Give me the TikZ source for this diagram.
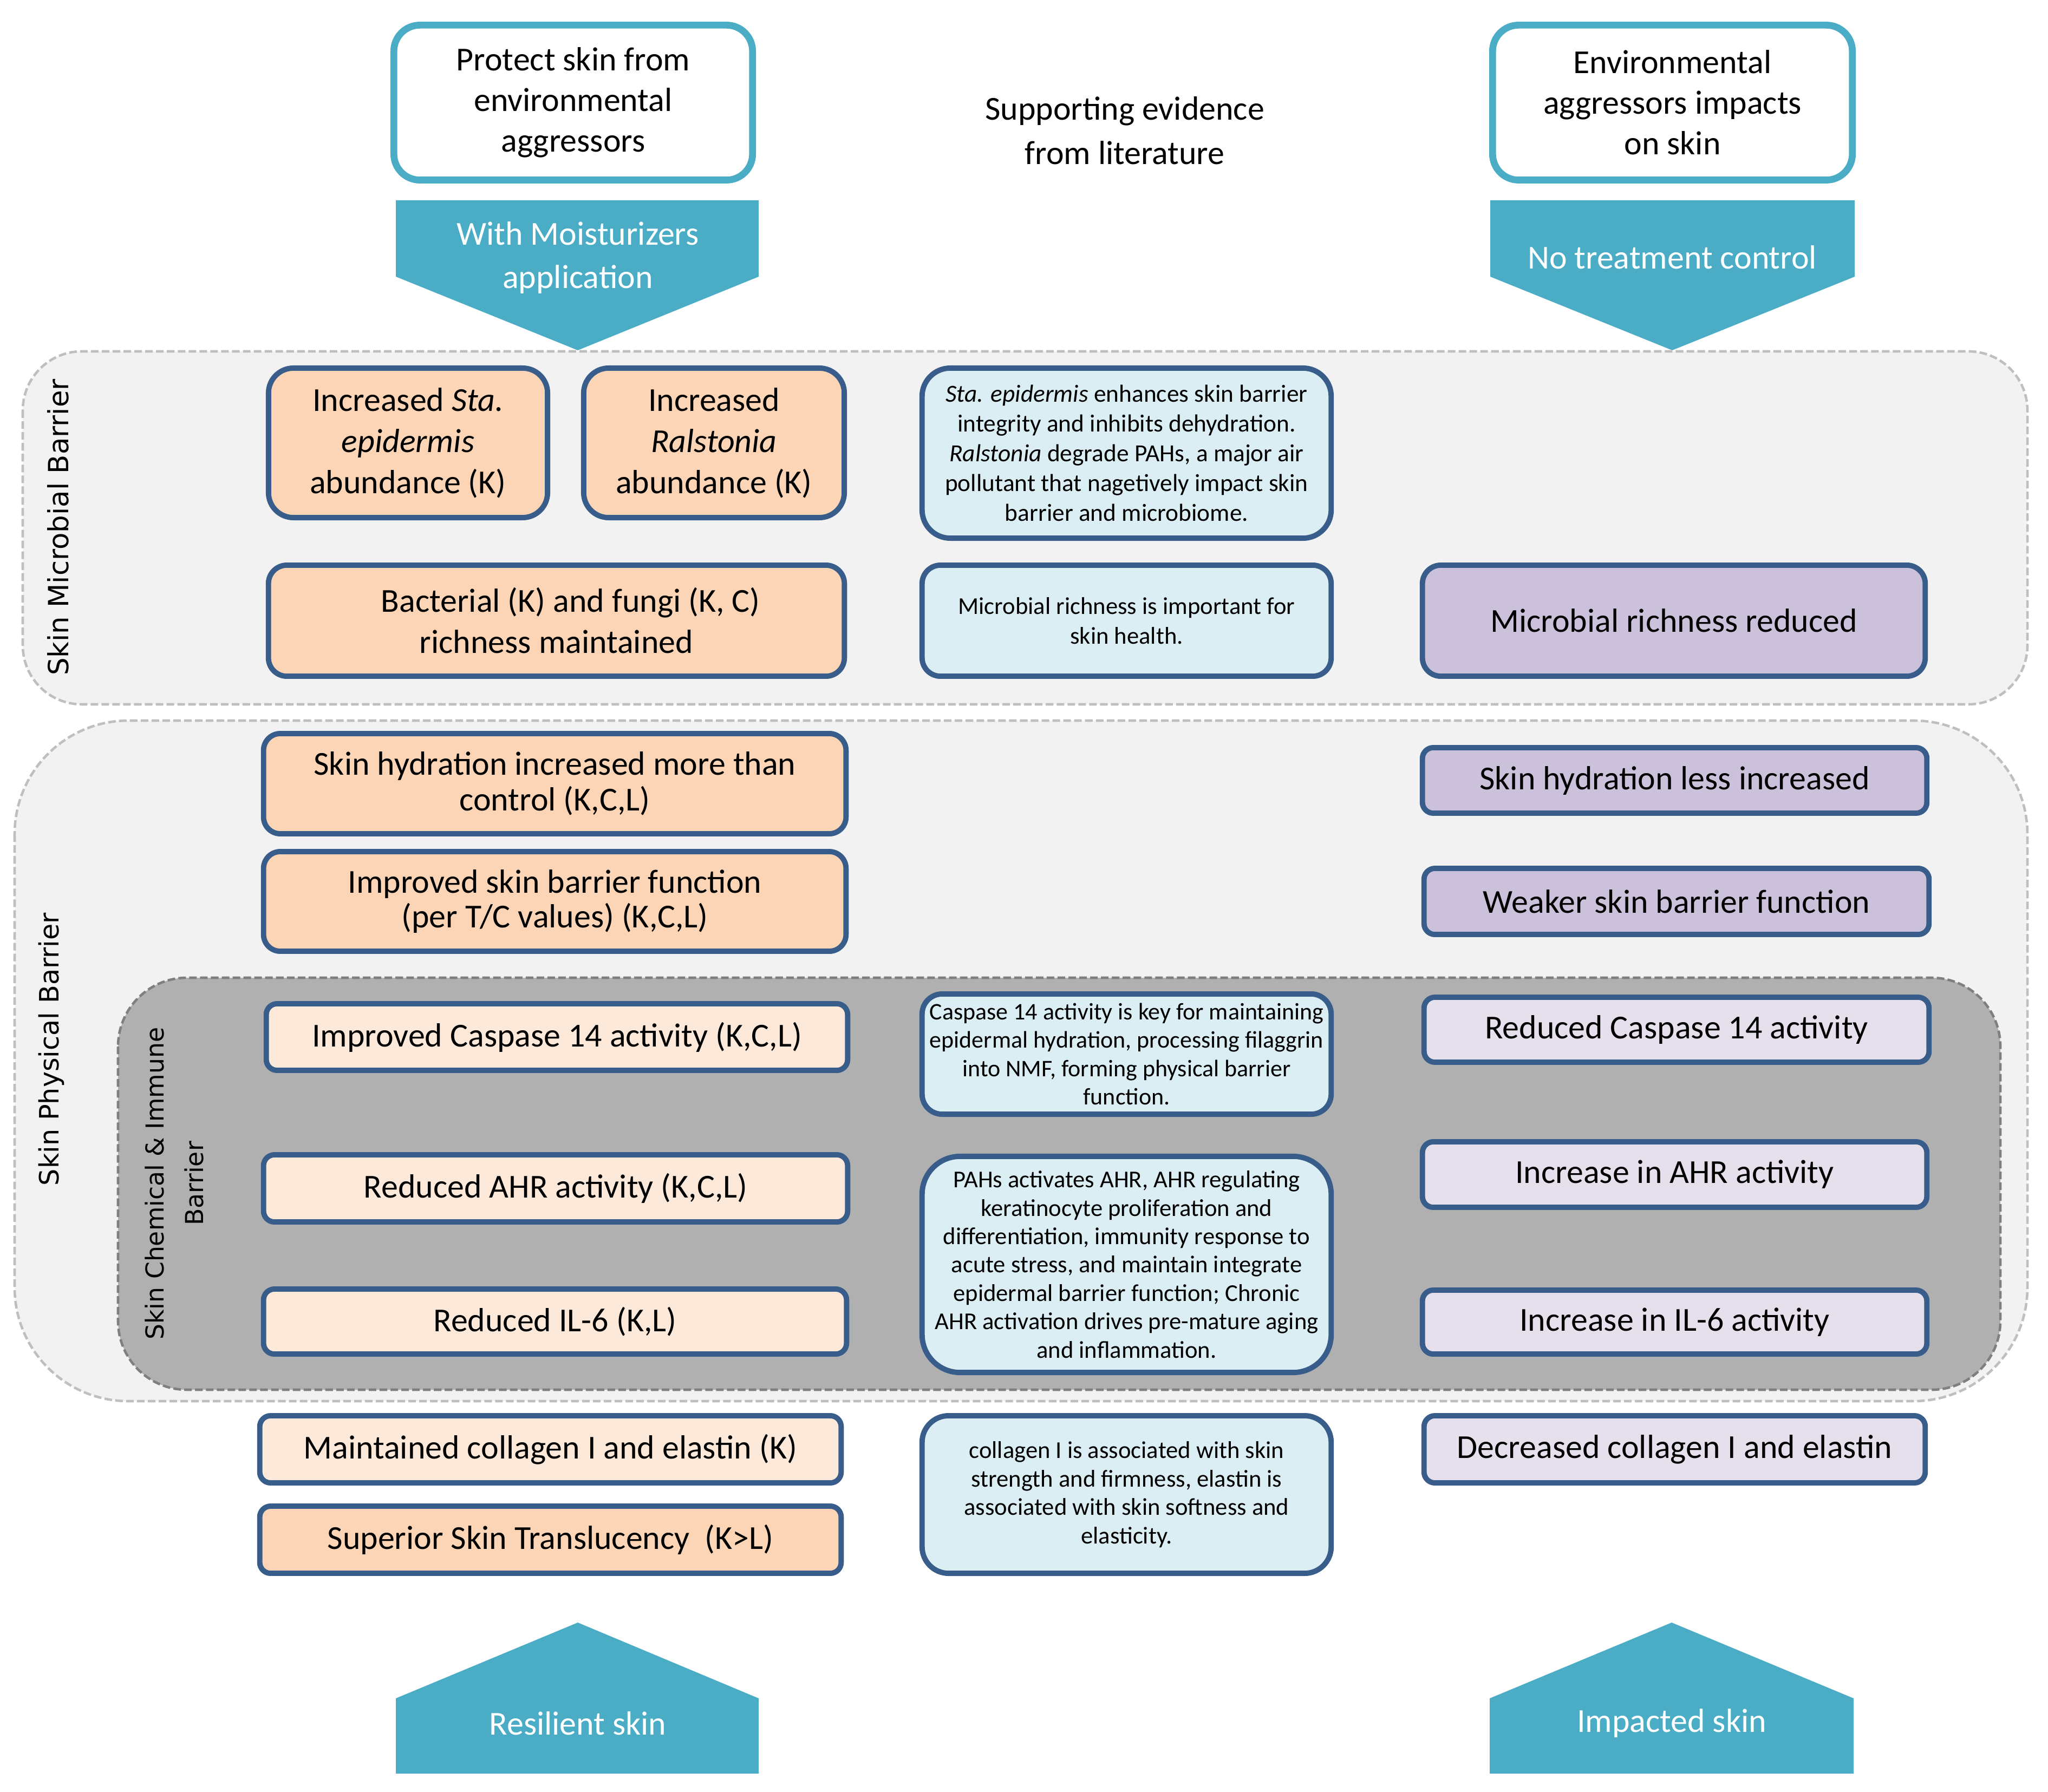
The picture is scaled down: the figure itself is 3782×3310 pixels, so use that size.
\documentclass[tikz,border=0pt]{standalone}
\usepackage{fontspec}
\setmainfont{Carlito}
\newfontfamily\lblfont{DejaVu Sans}
\definecolor{tealc}{HTML}{4BACC6}
\definecolor{boxblue}{HTML}{385D8A}
\definecolor{peachA}{HTML}{FBD5B5}
\definecolor{peachB}{HTML}{FDE9D9}
\definecolor{lavA}{HTML}{CCC1DA}
\definecolor{lavB}{HTML}{E5E0EC}
\definecolor{evblue}{HTML}{DBEEF3}
\definecolor{panelfill}{HTML}{F2F2F2}
\definecolor{panelline}{HTML}{BFBFBF}
\definecolor{chemfill}{HTML}{B0B0B0}
\definecolor{chemline}{HTML}{7F7F7F}
\begin{document}
\begin{tikzpicture}[x=0.01cm, y=-0.01cm,
  box/.style={draw=boxblue, line width=2.8pt, align=center, inner sep=0pt, font=\fontsize{17.6}{21.6}\selectfont},
  peachbox/.style={box, fill=peachA},
  lightpeach/.style={box, fill=peachB},
  lavbox/.style={box, fill=lavA},
  lightlav/.style={box, fill=lavB},
  evbox/.style={box, fill=evblue, font=\fontsize{12.7}{14.9}\selectfont},
  topbox/.style={draw=tealc, fill=white, line width=3.6pt, align=center, inner sep=0pt, rounded corners=0.48cm, font=\fontsize{17.6}{21.3}\selectfont},
  arrowshape/.style={fill=tealc},
  arrowtext/.style={text=white, align=center, font=\fontsize{17.6}{22.5}\selectfont},
  panel/.style={fill=panelfill, draw=panelline, line width=1.3pt, dash pattern=on 4pt off 1.7pt},
  chempanel/.style={fill=chemfill, draw=chemline, line width=1.3pt, dash pattern=on 4pt off 1.7pt},
  sidelabel/.style={rotate=90, align=center, font=\lblfont\fontsize{14}{21}\selectfont},
]
\useasboundingbox (0,0) rectangle (3782,3310);

% ---------- header ----------
\node[topbox, minimum width=6.62cm, minimum height=2.86cm] (protect) at (1058.5,189.5)
  {Protect skin from\\environmental\\aggressors};
\node[topbox, minimum width=6.64cm, minimum height=2.86cm] (envimp) at (3088.5,189.5)
  {Environmental\\aggressors impacts\\on skin};
\node[align=center, font=\fontsize{17.6}{23.3}\selectfont] (support) at (2077,241)
  {Supporting evidence\\from literature};

\fill[arrowshape] (731,370) -- (1401,370) -- (1401,511) -- (1067,647) -- (731,511) -- cycle;
\fill[arrowshape] (2752,370) -- (3425,370) -- (3425,511) -- (3088,647) -- (2752,511) -- cycle;
\node[arrowtext] (withm) at (1067,476) {With Moisturizers\\application};
\node[arrowtext] (notreat) at (3088,475) {No treatment control};

% ---------- panels ----------
\draw[panel, rounded corners=1.09cm] (42,649) rectangle (3744,1301);
\draw[panel, rounded corners=2.1cm] (27,1331) rectangle (3744,2588);
\draw[chempanel, rounded corners=1.27cm] (218,1806) rectangle (3694,2567);

\node[sidelabel, font=\lblfont\fontsize{14.6}{21}\selectfont] (lblmicro) at (107,974) {Skin Microbial Barrier};
\node[sidelabel] (lblphys) at (95,1938) {Skin Physical Barrier};
\node[sidelabel, font=\lblfont\fontsize{13}{21}\selectfont] (lblchem) at (322,2186)
  {Skin Chemical \& Immune\\Barrier};

% ---------- microbial barrier ----------
\node[peachbox, minimum width=5.15cm, minimum height=2.76cm, rounded corners=0.46cm] (staepi) at (753.5,818)
  {Increased \textit{Sta.}\\\textit{epidermis}\\abundance (K)};
\node[peachbox, minimum width=4.81cm, minimum height=2.76cm, rounded corners=0.46cm] (ralst) at (1318.5,818)
  {Increased\\\textit{Ralstonia}\\abundance (K)};
\node[peachbox, minimum width=10.63cm, minimum height=2.05cm, rounded corners=0.34cm] (bactfungi) at (1027.5,1146.5)
  {\hspace*{0.85em}Bacterial (K) and fungi (K, C)\\richness maintained};
\node[evbox, minimum width=7.55cm, minimum height=3.14cm, rounded corners=0.52cm, font=\fontsize{12.9}{15.6}\selectfont] (ev1) at (2080.5,837)
  {\textit{Sta. epidermis} enhances skin barrier\\integrity and inhibits dehydration.\\\textit{Ralstonia} degrade PAHs, a major air\\pollutant that nagetively impact skin\\barrier and microbiome.};
\node[evbox, minimum width=7.55cm, minimum height=2.05cm, rounded corners=0.34cm, font=\fontsize{12.7}{15.8}\selectfont] (ev2) at (2080.5,1146.5)
  {Microbial richness is important for\\skin health.};
\node[lavbox, minimum width=9.28cm, minimum height=2.05cm, rounded corners=0.34cm] (micred) at (3091,1146.5)
  {Microbial richness reduced};

% ---------- physical barrier ----------
\node[peachbox, minimum width=10.75cm, minimum height=1.85cm, rounded corners=0.31cm, font=\fontsize{17.6}{18.8}\selectfont] (hyd) at (1024.5,1447.5)
  {Skin hydration increased more than\\control (K,C,L)};
\node[peachbox, minimum width=10.75cm, minimum height=1.84cm, rounded corners=0.31cm, font=\fontsize{17.6}{18.2}\selectfont] (barimp) at (1024.5,1665)
  {Improved skin barrier function\\(per T/C values) (K,C,L)};
\node[lavbox, minimum width=9.31cm, minimum height=1.21cm, rounded corners=0.2cm] (hydless) at (3092.5,1441.5)
  {Skin hydration less increased};
\node[lavbox, minimum width=9.32cm, minimum height=1.22cm, rounded corners=0.2cm] (weaker) at (3096,1665)
  {Weaker skin barrier function};

% ---------- chemical & immune barrier ----------
\node[lightpeach, minimum width=10.73cm, minimum height=1.23cm, rounded corners=0.2cm] (casp) at (1028.5,1915.5)
  {Improved Caspase 14 activity (K,C,L)};
\node[lightpeach, minimum width=10.78cm, minimum height=1.24cm, rounded corners=0.2cm] (ahr) at (1026,2195)
  {Reduced AHR activity (K,C,L)};
\node[lightpeach, minimum width=10.76cm, minimum height=1.20cm, rounded corners=0.2cm] (ilsix) at (1025,2441)
  {Reduced IL-6 (K,L)};
\node[evbox, minimum width=7.55cm, minimum height=2.22cm, rounded corners=0.37cm, font=\fontsize{12.5}{14.9}\selectfont] (evcasp) at (2080.5,1947)
  {Caspase 14 activity is key for maintaining\\epidermal hydration, processing filaggrin\\into NMF, forming physical barrier\\function.};
\node[evbox, minimum width=7.55cm, minimum height=3.99cm, rounded corners=0.7cm] (evpah) at (2080.5,2335.5)
  {PAHs activates AHR, AHR regulating\\keratinocyte proliferation and\\differentiation, immunity response to\\acute stress, and maintain integrate\\epidermal barrier function; Chronic\\AHR activation drives pre-mature aging\\and inflammation.};
\node[lightlav, minimum width=9.32cm, minimum height=1.20cm, rounded corners=0.2cm] (casprd) at (3096,1902)
  {Reduced Caspase 14 activity};
\node[lightlav, minimum width=9.31cm, minimum height=1.21cm, rounded corners=0.2cm] (ahrinc) at (3092.5,2169.5)
  {Increase in AHR activity};
\node[lightlav, minimum width=9.31cm, minimum height=1.18cm, rounded corners=0.2cm] (ilsixinc) at (3092.5,2442)
  {Increase in IL-6 activity};

% ---------- below panels ----------
\node[lightpeach, minimum width=10.73cm, minimum height=1.24cm, rounded corners=0.2cm] (collagen) at (1016.5,2677)
  {Maintained collagen I and elastin (K)};
\node[peachbox, minimum width=10.73cm, minimum height=1.24cm, rounded corners=0.2cm] (transl) at (1016.5,2844)
  {Superior Skin Translucency~~(K>L)};
\node[evbox, minimum width=7.55cm, minimum height=2.91cm, rounded corners=0.49cm] (evcoll) at (2080.5,2760.5)
  {collagen I is associated with skin\\strength and firmness, elastin is\\associated with skin softness and\\elasticity.};
\node[lightlav, minimum width=9.25cm, minimum height=1.24cm, rounded corners=0.2cm] (colldec) at (3092.5,2677)
  {Decreased collagen I and elastin};

% ---------- outcome arrows ----------
\fill[arrowshape] (731,3276) -- (731,3137) -- (1067,2997) -- (1401,3137) -- (1401,3276) -- cycle;
\fill[arrowshape] (2751,3276) -- (2751,3137) -- (3087,2997) -- (3423,3137) -- (3423,3276) -- cycle;
\node[arrowtext] (resil) at (1067,3183) {Resilient skin};
\node[arrowtext] (impact) at (3087,3183) {Impacted skin};
\end{tikzpicture}
\end{document}
